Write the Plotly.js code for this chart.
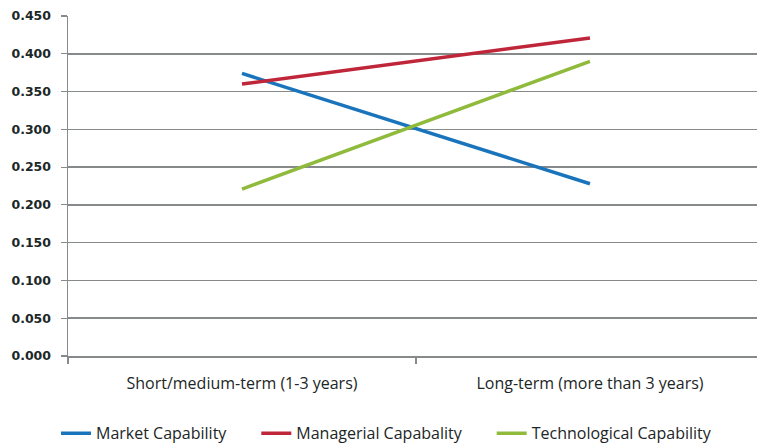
<!DOCTYPE html>
<html>
<head>
<meta charset="utf-8">
<script src="https://cdn.plot.ly/plotly-3.0.1.min.js"></script>
<style>
  html, body { margin: 0; padding: 0; background: #ffffff; }
  #chart { width: 757px; height: 443px; }
</style>
</head>
<body>
<div id="chart"></div>
<script>
const categories = ["Short/medium-term (1-3 years)", "Long-term (more than 3 years)"];
const marketCapability = [0.374, 0.228];
const managerialCapability = [0.360, 0.421];
const technologicalCapability = [0.221, 0.390];
const seriesNames = ["Market Capability", "Managerial Capabality", "Technological Capability"];
const yTickValues = [0, 0.05, 0.1, 0.15, 0.2, 0.25, 0.3, 0.35, 0.4, 0.45];
const yTickLabels = ["0.000", "0.050", "0.100", "0.150", "0.200", "0.250", "0.300", "0.350", "0.400", "0.450"];

const colors = ["#1a74bb", "#c0263a", "#8fba3c"];
const seriesValues = [marketCapability, managerialCapability, technologicalCapability];
const legendPad = "\u00a0".repeat(6);

const traces = seriesValues.map((vals, i) => ({
  type: "scatter",
  mode: "lines",
  x: categories,
  y: vals,
  name: seriesNames[i] + legendPad,
  line: { color: colors[i], width: 3.5 },
  hoverinfo: "skip"
}));

const layout = {
  width: 757,
  height: 443,
  margin: { l: 68, r: 0, t: 16, b: 87, pad: 0 },
  paper_bgcolor: "#ffffff",
  plot_bgcolor: "#ffffff",
  showlegend: true,
  xaxis: {
    type: "category",
    categoryorder: "array",
    categoryarray: categories,
    range: [-0.5, 1.48],
    tickson: "boundaries",
    ticks: "outside",
    ticklen: 6,
    tickcolor: "#868a8a",
    tickwidth: 1.2,
    showgrid: false,
    zeroline: false,
    showline: true,
    linecolor: "#868a8a",
    linewidth: 1.5,
    tickfont: { family: "'Open Sans', Lato, sans-serif", size: 16, color: "#1c2626" },
    ticklabelstandoff: 12,
    fixedrange: true
  },
  yaxis: {
    range: [0, 0.45],
    tickmode: "array",
    tickvals: yTickValues,
    ticktext: yTickLabels,
    ticks: "outside",
    ticklen: 6,
    tickcolor: "#868a8a",
    tickwidth: 1.2,
    showgrid: true,
    gridcolor: "#868a8a",
    gridwidth: 1.5,
    zeroline: false,
    showline: true,
    linecolor: "#868a8a",
    linewidth: 1.5,
    tickfont: { family: "'DejaVu Sans', Verdana, sans-serif", size: 12.5, color: "#1c2828", weight: "bold" },
    ticklabelstandoff: 7,
    fixedrange: true
  },
  legend: {
    orientation: "h",
    xref: "container",
    yref: "container",
    x: 0.074,
    xanchor: "left",
    y: 0.022,
    yanchor: "middle",
    font: { family: "'Open Sans', Lato, sans-serif", size: 16, color: "#1c2626" },
    itemclick: false,
    itemdoubleclick: false
  }
};

Plotly.newPlot("chart", traces, layout, { displayModeBar: false, staticPlot: true });
</script>
</body>
</html>
